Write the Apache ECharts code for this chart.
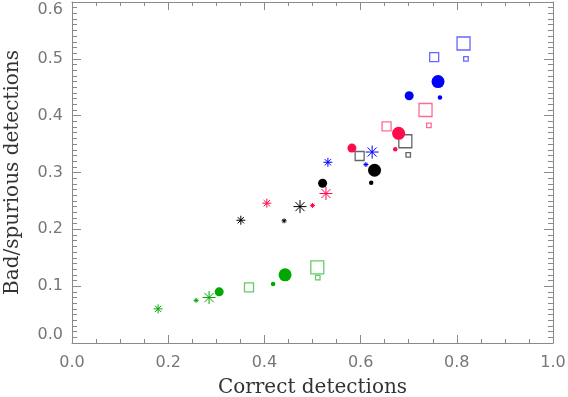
<!DOCTYPE html>
<html>
<head>
<meta charset="utf-8">
<script src="https://cdn.jsdelivr.net/npm/echarts@6/dist/echarts.min.js"></script>
<style>
html, body { margin: 0; padding: 0; background: #fff; }
#chart { width: 568px; height: 397px; }
</style>
</head>
<body>
<div id="chart"></div>
<script>
'use strict';
// every list holds the small, medium and large marker of one colour/shape
var greenStar = [[0.258, 0.075], [0.179, 0.060], [0.285, 0.080]];
var greenDot = [[0.418, 0.104], [0.306, 0.090], [0.443, 0.120]];
var greenBox = [[0.511, 0.115], [0.368, 0.098], [0.510, 0.133]];

var blackStar = [[0.441, 0.215], [0.351, 0.216], [0.474, 0.240]];
var blackDot = [[0.622, 0.282], [0.521, 0.281], [0.629, 0.304]];
var blackBox = [[0.699, 0.331], [0.598, 0.329], [0.693, 0.355]];

var pinkStar = [[0.500, 0.242], [0.405, 0.246], [0.528, 0.263]];
var pinkDot = [[0.672, 0.341], [0.582, 0.343], [0.679, 0.369]];
var pinkBox = [[0.742, 0.383], [0.654, 0.381], [0.735, 0.410]];

var blueStar = [[0.611, 0.314], [0.532, 0.318], [0.624, 0.336]];
var blueDot = [[0.765, 0.432], [0.701, 0.435], [0.761, 0.460]];
var blueBox = [[0.819, 0.500], [0.753, 0.503], [0.814, 0.527]];

var xTicks = [0, 0.2, 0.4, 0.6, 0.8, 1.0];
var yTicks = [0, 0.1, 0.2, 0.3, 0.4, 0.5, 0.6];

var starSizes = [5, 9, 13];
var dotSizes = [4.5, 9, 13];
var boxSizes = [4.5, 9, 13];

var starPath = 'path://M0,-10L0,10M-10,0L10,0M-7,-7L7,7M-7,7L7,-7';

var colors = {
	green: '#00a800',
	black: '#000000',
	pink: '#ff0a4a',
	blue: '#0000ff'
};

function starSeries(data, c) {
	return {
		type: 'scatter',
		symbol: starPath,
		symbolSize: function(v, p) { return starSizes[p.dataIndex]; },
		itemStyle: { color: 'rgba(0,0,0,0)', borderColor: c, borderWidth: 1, opacity: 1 },
		data: data
	};
}

function dotSeries(data, c) {
	return {
		type: 'scatter',
		symbol: 'circle',
		symbolSize: function(v, p) { return dotSizes[p.dataIndex]; },
		itemStyle: { color: c, opacity: 1 },
		data: data
	};
}

function boxSeries(data, c) {
	return {
		type: 'scatter',
		symbol: 'rect',
		symbolSize: function(v, p) { return boxSizes[p.dataIndex]; },
		itemStyle: { color: 'rgba(0,0,0,0)', borderColor: c, borderWidth: 1.3, opacity: 0.6 },
		data: data
	};
}

var series = [
	starSeries(greenStar, colors.green), dotSeries(greenDot, colors.green), boxSeries(greenBox, colors.green),
	starSeries(blackStar, colors.black), dotSeries(blackDot, colors.black), boxSeries(blackBox, colors.black),
	starSeries(pinkStar, colors.pink), dotSeries(pinkDot, colors.pink), boxSeries(pinkBox, colors.pink),
	starSeries(blueStar, colors.blue), dotSeries(blueDot, colors.blue), boxSeries(blueBox, colors.blue)
];

var axisGray = '#8a8a8a';

function makeX(pos, withLabels) {
	return {
		type: 'value',
		position: pos,
		min: xTicks[0],
		max: xTicks[xTicks.length - 1],
		interval: 0.2,
		axisLine: { show: true, onZero: false, lineStyle: { color: axisGray, width: 1 } },
		axisTick: { show: true, inside: true, length: 8, lineStyle: { color: axisGray } },
		minorTick: { show: true, splitNumber: 4, length: 4, lineStyle: { color: axisGray } },
		splitLine: { show: false },
		axisLabel: {
			show: withLabels,
			margin: 12,
			fontFamily: 'DejaVu Sans',
			fontSize: 16,
			color: '#777',
			formatter: function(v) { return v.toFixed(1); }
		},
		name: withLabels ? 'Correct detections' : '',
		nameLocation: 'middle',
		nameGap: 35,
		nameTextStyle: { fontFamily: 'DejaVu Serif', fontSize: 20, color: '#333' }
	};
}

function makeY(pos, withLabels) {
	return {
		type: 'value',
		position: pos,
		min: yTicks[0],
		max: yTicks[yTicks.length - 1],
		interval: 0.1,
		axisLine: { show: true, onZero: false, lineStyle: { color: axisGray, width: 1 } },
		axisTick: { show: true, inside: true, length: 9, lineStyle: { color: axisGray } },
		minorTick: { show: true, splitNumber: 10, length: 5, lineStyle: { color: axisGray } },
		splitLine: { show: false },
		axisLabel: {
			show: withLabels,
			margin: 9,
			fontFamily: 'DejaVu Sans',
			fontSize: 16,
			color: '#777',
			verticalAlignMinLabel: 'bottom',
			verticalAlignMaxLabel: 'top',
			formatter: function(v) { return v.toFixed(1); }
		},
		name: withLabels ? 'Bad/spurious detections' : '',
		nameLocation: 'middle',
		nameGap: 49,
		nameTextStyle: { fontFamily: 'DejaVu Serif', fontSize: 20, color: '#333' }
	};
}

var chart = echarts.init(document.getElementById('chart'), null, { renderer: 'canvas' });
chart.setOption({
	animation: false,
	backgroundColor: '#fff',
	grid: { left: 72, right: 15, top: 2, bottom: 54, outerBoundsMode: 'none', containLabel: false },
	xAxis: [makeX('bottom', true), makeX('top', false)],
	yAxis: [makeY('left', true), makeY('right', false)],
	series: series
});
</script>
</body>
</html>
